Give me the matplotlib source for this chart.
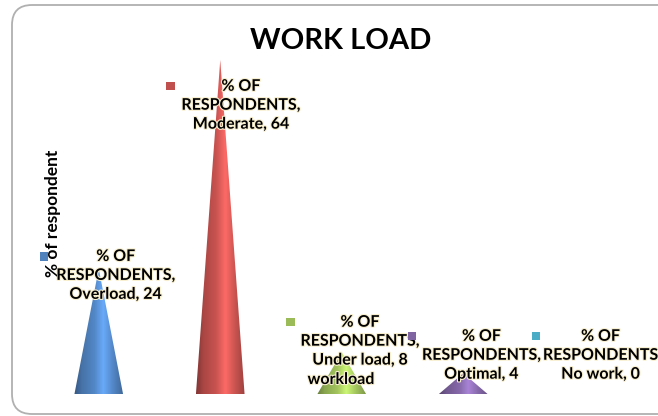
import numpy as np
import matplotlib
matplotlib.use("Agg")
import matplotlib.pyplot as plt
from matplotlib.patches import Polygon, FancyBboxPatch, Rectangle
from matplotlib.colors import to_rgb
import matplotlib.patheffects as pe

# ---- data ----
categories = ["Overload", "Moderate", "Under load", "Optimal", "No work"]
values = [24, 64, 8, 4, 0]
series_name = "% OF RESPONDENTS"
title = "WORK LOAD"
x_label = "workload"
y_label = "% of respondent"

colors = ["#4F81BD", "#C0504D", "#9BBB59", "#8064A2", "#4BACC6"]

# label layout (data-unit offsets)
label_dx = [0.14, 0.17, 0.15, 0.15, 0.13]
label_y = [27.6, 60.2, 15.0, 12.3, 12.3]
key_dx = [-0.45, -0.41, -0.42, -0.42, -0.40]
key_y = [26.4, 59.0, 13.8, 11.1, 11.1]

plt.rcParams['font.family'] = ['Lato', 'DejaVu Sans']

W, H = 658, 416
fig = plt.figure(figsize=(W / 100, H / 100), dpi=100)
fig.patch.set_facecolor("white")

# overlay in pixel units for the rounded chart border
bg = fig.add_axes([0, 0, 1, 1])
bg.set_xlim(0, W)
bg.set_ylim(H, 0)
bg.axis("off")
bg.add_patch(FancyBboxPatch((12, 5), 700, 409,
                            boxstyle="round,pad=0,rounding_size=20",
                            fill=False, edgecolor="#b0b0b0", linewidth=1.3,
                            clip_on=False))

ax = fig.add_axes([38 / W, 22 / H, 607.5 / W, 365.4 / H])
ax.set_xlim(-0.5, 4.5)
ax.set_ylim(0, 70)
ax.axis("off")

half_w = 0.2


def shade(c, k):
    r = np.array(to_rgb(c))
    return np.clip(r * k, 0, 1)


for i, (v, c) in enumerate(zip(values, colors)):
    if v <= 0:
        continue
    n = 80
    t = np.linspace(0, 1, n)
    prof = np.interp(t, [0, 0.15, 0.42, 0.6, 0.8, 1.0],
                     [0.68, 0.88, 1.05, 1.32, 1.05, 0.82])
    img = np.array([[shade(c, k) for k in prof]])
    im = ax.imshow(img, extent=(i - half_w, i + half_w, 0, v),
                   aspect="auto", interpolation="bilinear", zorder=2)
    poly = Polygon([(i - half_w, 0), (i, v), (i + half_w, 0)],
                   closed=True, facecolor="none", edgecolor="none")
    ax.add_patch(poly)
    im.set_clip_path(poly)

glow = [pe.withStroke(linewidth=1.6, foreground="#f8efcf")]

for i, (cat, v, c) in enumerate(zip(categories, values, colors)):
    sep = "," if i < 4 else ""
    txt = f"% OF\nRESPONDENTS{sep}\n{cat}, {v}"
    ax.text(i + label_dx[i], label_y[i], txt, ha="center", va="top",
            fontsize=11.5, fontweight="bold", linespacing=1.45,
            color="black", zorder=5, path_effects=glow)
    ax.add_patch(Rectangle((i + key_dx[i] - 0.035, key_y[i] - 0.85), 0.07, 1.7,
                           facecolor=c, edgecolor="none", zorder=5))

fig.text(341 / W, 1 - 41 / H, title, ha="center", va="center",
         fontsize=21, fontweight="bold")
fig.text(53 / W, 1 - 213 / H, y_label, ha="center", va="center",
         rotation=90, fontsize=12.5, fontweight="bold")
fig.text(341 / W, 1 - 380 / H, x_label, ha="center", va="center",
         fontsize=11.5, fontweight="bold", path_effects=glow, zorder=6)

fig.savefig("out.png", dpi=100)
